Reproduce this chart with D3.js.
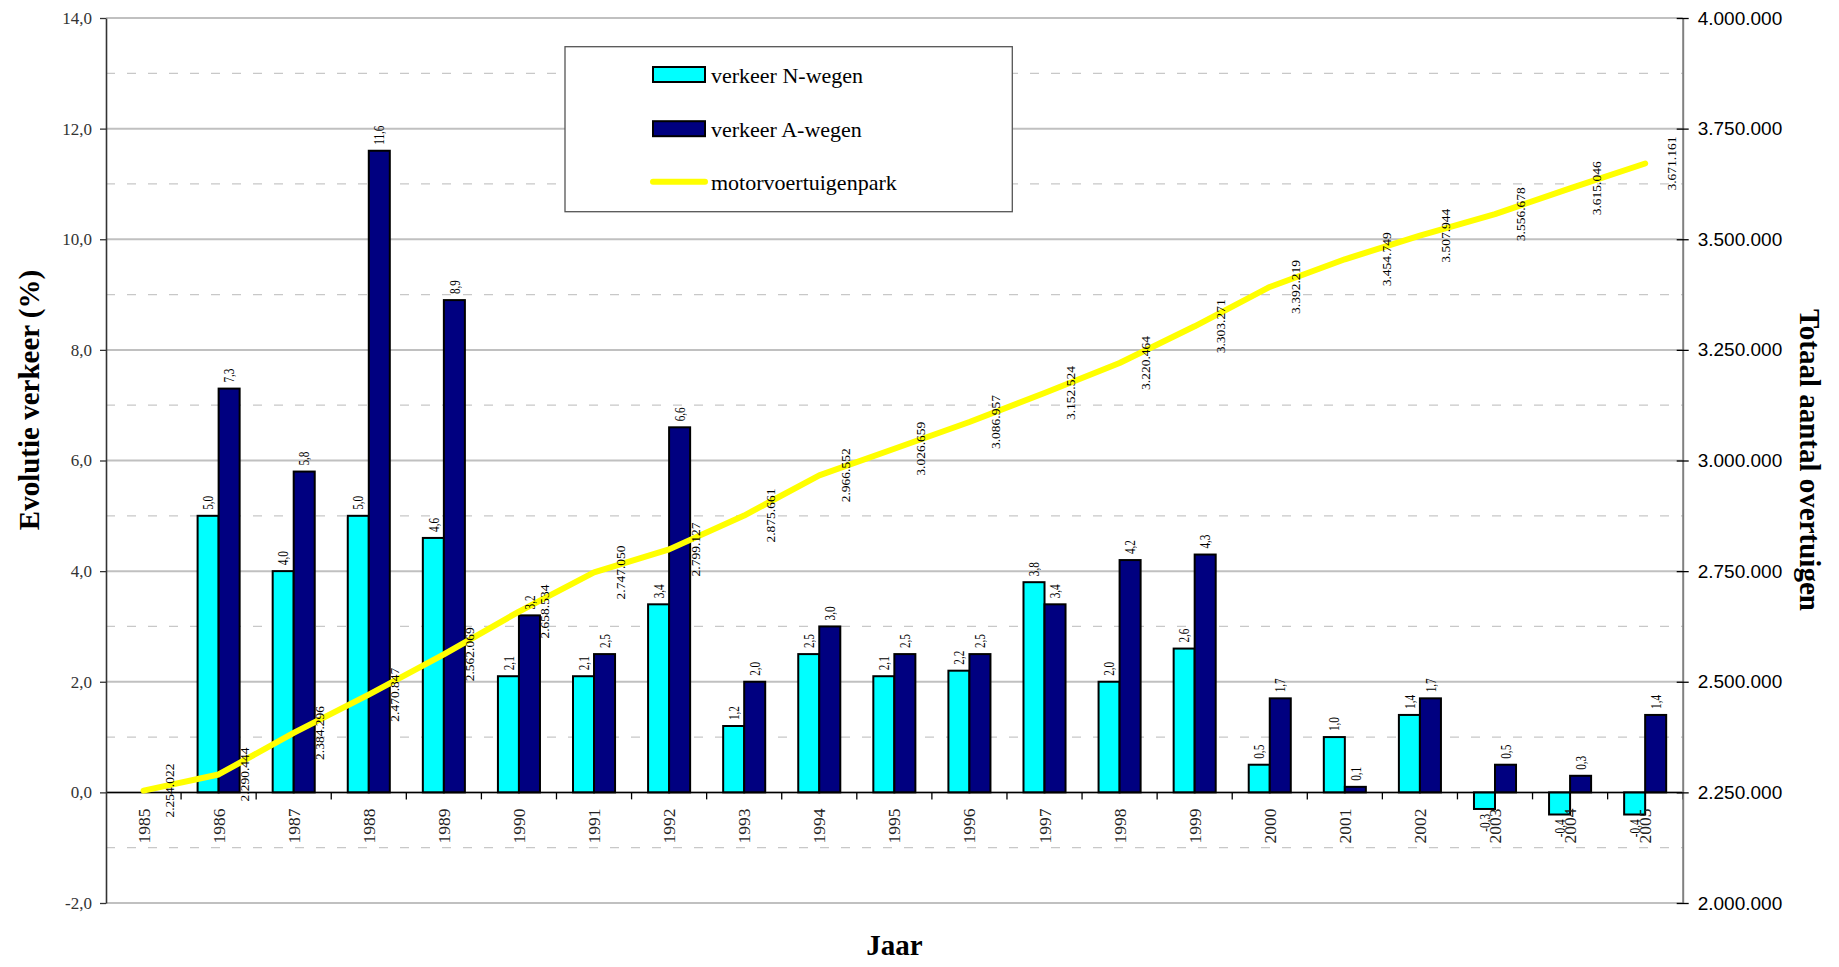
<!DOCTYPE html>
<html>
<head>
<meta charset="utf-8">
<script src="https://cdn.jsdelivr.net/npm/d3@7"></script>
<style>
  html, body { margin: 0; padding: 0; background: #fff; }
  svg { display: block; }
</style>
</head>
<body>
<svg id="chart" width="1839" height="967"></svg>
<script>
// ---- DATA ----
const years = ["1985","1986","1987","1988","1989","1990","1991","1992","1993","1994","1995",
               "1996","1997","1998","1999","2000","2001","2002","2003","2004","2005"];
const nWegen = [null, 5.0, 4.0, 5.0, 4.6, 2.1, 2.1, 3.4, 1.2, 2.5, 2.1, 2.2, 3.8, 2.0, 2.6, 0.5, 1.0, 1.4, -0.3, -0.4, -0.4];
const aWegen = [null, 7.3, 5.8, 11.6, 8.9, 3.2, 2.5, 6.6, 2.0, 3.0, 2.5, 2.5, 3.4, 4.2, 4.3, 1.7, 0.1, 1.7, 0.5, 0.3, 1.4];
const park = [2254022, 2290444, 2384296, 2470847, 2562069, 2658534, 2747050, 2799127, 2875661, 2966552,
              3026659, 3086957, 3152524, 3220464, 3303271, 3392219, 3454749, 3507944, 3556678, 3615046, 3671161];
const leftTicks = [-2, 0, 2, 4, 6, 8, 10, 12, 14];
const leftMinor = [-1, 1, 3, 5, 7, 9, 11, 13];
const rightTicks = [2000000, 2250000, 2500000, 2750000, 3000000, 3250000, 3500000, 3750000, 4000000];
const seriesNames = ["verkeer N-wegen", "verkeer A-wegen", "motorvoertuigenpark"];

// ---- LAYOUT ----
const L = 106, R = 1682.7, T = 18, B = 903;
const svg = d3.select("#chart");
const serif = "'Liberation Serif', 'Times New Roman', serif";
const sans = "'Liberation Sans', Arial, sans-serif";

const x = d3.scaleBand().domain(years).range([L, R]).padding(0);
const bw = x.bandwidth();
const yL = d3.scaleLinear().domain([-2, 14]).range([B, T]);
const yR = d3.scaleLinear().domain([2000000, 4000000]).range([B, T]);
const barW = bw * 0.28;

const fmtL = d => d3.format(".1f")(d).replace(".", ",").replace("\u2212", "-");
const fmtR = d => d3.format(",")(d).replace(/,/g, ".");

// gridlines
svg.append("g").selectAll("line").data(leftMinor).join("line")
  .attr("x1", L).attr("x2", R).attr("y1", d => yL(d)).attr("y2", d => yL(d))
  .attr("stroke", "#c8c8c8").attr("stroke-width", 1.2).attr("stroke-dasharray", "9,12");
svg.append("g").selectAll("line").data(leftTicks).join("line")
  .attr("x1", L).attr("x2", R).attr("y1", d => yL(d)).attr("y2", d => yL(d))
  .attr("stroke", "#c0c0c0").attr("stroke-width", 2);

// legend box
const lg = svg.append("g");
lg.append("rect").attr("x", 565).attr("y", 46.7).attr("width", 447.3).attr("height", 165)
  .attr("fill", "#fff").attr("stroke", "#555").attr("stroke-width", 1.3);

// bars
const rows = years.map((y, i) => ({ year: y, n: nWegen[i], a: aWegen[i], p: park[i] }));
const bars = svg.append("g");
rows.forEach(d => {
  const cx = x(d.year) + bw / 2;
  if (d.n !== null) {
    bars.append("rect")
      .attr("x", cx - barW).attr("width", barW)
      .attr("y", Math.min(yL(d.n), yL(0))).attr("height", Math.abs(yL(d.n) - yL(0)))
      .attr("fill", "#00FFFF").attr("stroke", "#000").attr("stroke-width", 2);
  }
  if (d.a !== null) {
    bars.append("rect")
      .attr("x", cx).attr("width", barW)
      .attr("y", Math.min(yL(d.a), yL(0))).attr("height", Math.abs(yL(d.a) - yL(0)))
      .attr("fill", "#000080").attr("stroke", "#000").attr("stroke-width", 2);
  }
});

// zero (category) axis line and ticks
svg.append("line").attr("x1", L).attr("x2", R).attr("y1", yL(0)).attr("y2", yL(0))
  .attr("stroke", "#000").attr("stroke-width", 1.5);
svg.append("g").selectAll("line").data(years.slice(1).concat(["end"])).join("line")
  .attr("x1", d => d === "end" ? R : x(d)).attr("x2", d => d === "end" ? R : x(d))
  .attr("y1", yL(0)).attr("y2", yL(0) + 7)
  .attr("stroke", "#000").attr("stroke-width", 1.3);

// year labels
svg.append("g").selectAll("text").data(years).join("text")
  .attr("transform", d => `translate(${x(d) + bw / 2},${yL(0) + 16}) rotate(-90)`)
  .attr("text-anchor", "end").attr("dominant-baseline", "central")
  .attr("font-family", serif).attr("font-size", 17.5).attr("fill", "#222")
  .text(d => d);

// line
const line = d3.line().x(d => x(d.year) + bw / 2).y(d => yR(d.p));
svg.append("path").datum(rows).attr("d", line)
  .attr("fill", "none").attr("stroke", "#FFFF00").attr("stroke-width", 6)
  .attr("stroke-linecap", "round").attr("stroke-linejoin", "round");

// line labels
svg.append("g").selectAll("text").data(rows).join("text")
  .attr("transform", d => `translate(${x(d.year) + bw / 2 + (d.year === "2001" ? 42 : 26)},${yR(d.p)}) rotate(-90)`)
  .attr("text-anchor", "middle").attr("dominant-baseline", "central")
  .attr("font-family", serif).attr("font-size", 13.5).attr("fill", "#000")
  .text(d => fmtR(d.p));

// bar labels
const blab = svg.append("g");
rows.forEach(d => {
  const cx = x(d.year) + bw / 2;
  [[d.n, cx - barW / 2], [d.a, cx + barW / 2]].forEach(([v, bx]) => {
    if (v === null) return;
    const yy = v >= 0 ? yL(v) - 6 : yL(v) + 5;
    blab.append("text")
      .attr("transform", `translate(${bx},${yy}) rotate(-90) scale(0.72,1)`)
      .attr("text-anchor", v >= 0 ? "start" : "end").attr("dominant-baseline", "central")
      .attr("font-family", serif).attr("font-size", 15.5).attr("fill", "#000")
      .text(fmtL(v));
  });
});

// left axis
const axL = svg.append("g").attr("transform", `translate(${L},0)`)
  .call(d3.axisLeft(yL).tickValues(leftTicks).tickSize(6).tickSizeOuter(0).tickPadding(8).tickFormat(fmtL));
axL.select(".domain").attr("stroke", "#333").attr("stroke-width", 1.6);
axL.selectAll(".tick line").attr("stroke", "#333").attr("stroke-width", 1.3);
axL.selectAll(".tick text").attr("font-family", serif).attr("font-size", 17).attr("fill", "#333");

// right axis
const axR = svg.append("g").attr("transform", `translate(${R},0)`)
  .call(d3.axisRight(yR).tickValues(rightTicks).tickSize(6).tickSizeOuter(0).tickPadding(9).tickFormat(fmtR));
axR.select(".domain").attr("stroke", "#808080").attr("stroke-width", 2);
axR.selectAll(".tick line").attr("x1", -6).attr("x2", 6).attr("stroke", "#000").attr("stroke-width", 1.3);
axR.selectAll(".tick text").attr("font-family", sans).attr("font-size", 19).attr("fill", "#000");

// axis titles
svg.append("text").attr("transform", "translate(29,400) rotate(-90)")
  .attr("text-anchor", "middle").attr("dominant-baseline", "central")
  .attr("font-family", serif).attr("font-weight", "bold").attr("font-size", 29)
  .text("Evolutie verkeer (%)");
svg.append("text").attr("transform", "translate(1810,460) rotate(90)")
  .attr("text-anchor", "middle").attr("dominant-baseline", "central")
  .attr("font-family", serif).attr("font-weight", "bold").attr("font-size", 29)
  .text("Totaal aantal overtuigen");
svg.append("text").attr("x", (L + R) / 2).attr("y", 955)
  .attr("text-anchor", "middle")
  .attr("font-family", serif).attr("font-weight", "bold").attr("font-size", 29)
  .text("Jaar");

// legend entries
const legY = [74.5, 128.7, 181.7];
lg.append("rect").attr("x", 653).attr("y", legY[0] - 7.5).attr("width", 52).attr("height", 15)
  .attr("fill", "#00FFFF").attr("stroke", "#000").attr("stroke-width", 2);
lg.append("rect").attr("x", 653).attr("y", legY[1] - 7.5).attr("width", 52).attr("height", 15)
  .attr("fill", "#000080").attr("stroke", "#000").attr("stroke-width", 2);
lg.append("line").attr("x1", 653).attr("x2", 705).attr("y1", legY[2]).attr("y2", legY[2])
  .attr("stroke", "#FFFF00").attr("stroke-width", 6).attr("stroke-linecap", "round");
lg.selectAll("text.leg").data(seriesNames).join("text").attr("class", "leg")
  .attr("x", 711).attr("y", (d, i) => legY[i] + 8.5)
  .attr("font-family", serif).attr("font-size", 22).attr("fill", "#000")
  .text(d => d);
</script>
</body>
</html>
